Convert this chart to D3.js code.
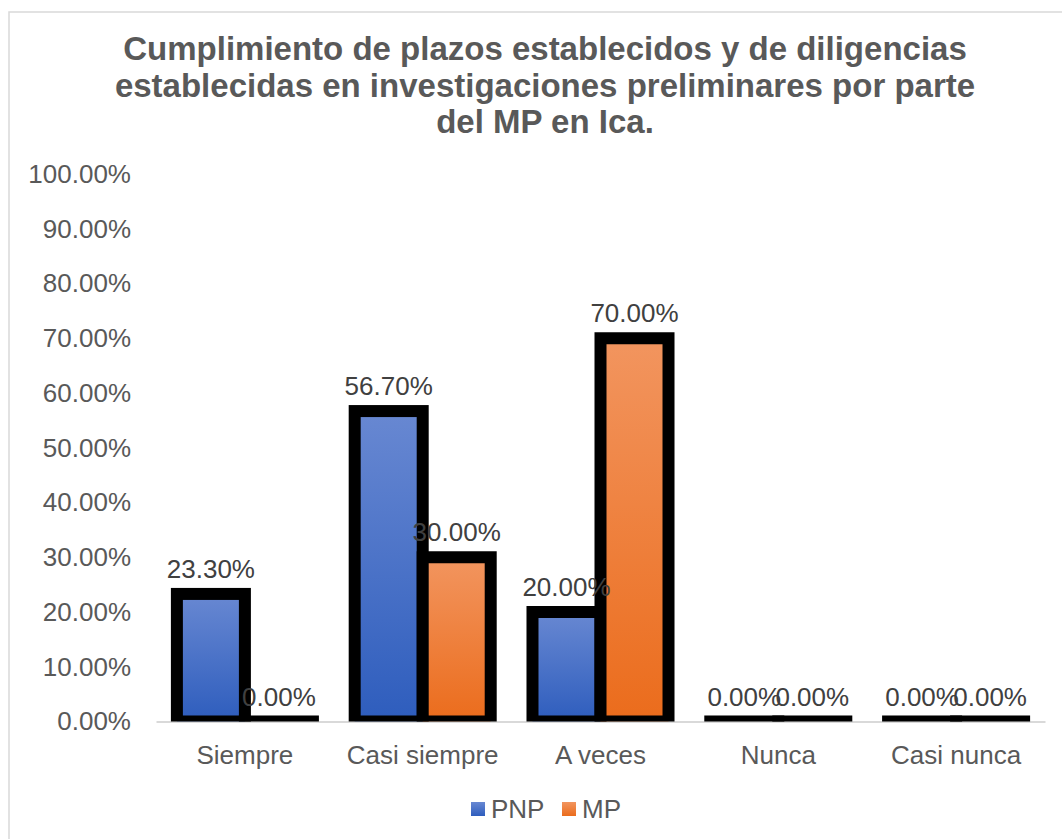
<!DOCTYPE html>
<html>
<head>
<meta charset="utf-8">
<script src="https://cdn.jsdelivr.net/npm/d3@7"></script>
<style>
  body { margin: 0; background: #fff; }
  svg text { font-family: "Liberation Sans", Arial, sans-serif; }
</style>
</head>
<body>
<svg id="chart" width="1062" height="839"></svg>
<script>
var titleLines = [
  "Cumplimiento de plazos establecidos y de diligencias",
  "establecidas en investigaciones preliminares por parte",
  "del MP en Ica."
];
var categories = ["Siempre", "Casi siempre", "A veces", "Nunca", "Casi nunca"];
var seriesNames = ["PNP", "MP"];
var pnpValues = [0.233, 0.567, 0.20, 0, 0];
var mpValues = [0, 0.30, 0.70, 0, 0];
var yTicks = [0, 0.1, 0.2, 0.3, 0.4, 0.5, 0.6, 0.7, 0.8, 0.9, 1.0];

var W = 1062, H = 839;
var L = 156, R = 1045, T = 174, B = 721.5;

var vis = d3.select("#chart");

// gradients like excel
var defs = vis.append("defs");
var grads = [
  { id: "gPNP", top: "#6888D2", bot: "#2E5DBD" },
  { id: "gMP", top: "#F2955F", bot: "#EB6C1C" }
];
grads.forEach(function(g) {
  var lg = defs.append("linearGradient").attr("id", g.id)
      .attr("x1", 0).attr("y1", 0).attr("x2", 0).attr("y2", 1);
  lg.append("stop").attr("offset", "0%").attr("stop-color", g.top);
  lg.append("stop").attr("offset", "100%").attr("stop-color", g.bot);
});
defs.append("clipPath").attr("id", "plotClip")
  .append("rect").attr("x", 0).attr("y", 0).attr("width", W).attr("height", B);

// chart border
vis.append("rect")
    .attr("x", 9).attr("y", 12)
    .attr("width", W + 20).attr("height", H + 20)
    .attr("fill", "none")
    .attr("stroke", "#d9d9d9")
    .attr("stroke-width", 1.5);

// title
vis.append("g").selectAll("text")
    .data(titleLines)
  .enter().append("text")
    .attr("x", 545)
    .attr("y", function(d, i) { return 60 + i * 36.5; })
    .attr("text-anchor", "middle")
    .attr("font-size", "33px")
    .attr("font-weight", "bold")
    .attr("fill", "#595959")
    .text(function(d) { return d; });

var xScale = d3.scaleBand().domain(categories).range([L, R])
    .paddingInner(0.235).paddingOuter(0.1175);
var xSub = d3.scaleBand().domain(seriesNames).range([0, xScale.bandwidth()]);
var yScale = d3.scaleLinear().domain([0, 1]).range([B, T]);

var fmt = d3.format(".2%");

// y axis labels
var yAxis = d3.axisLeft(yScale).tickValues(yTicks).tickFormat(fmt).tickSize(0).tickPadding(0);
var yg = vis.append("g")
    .attr("transform", "translate(131,0)")
    .call(yAxis);
yg.select(".domain").remove();
yg.selectAll("text")
    .attr("font-size", "26px")
    .attr("font-family", "Liberation Sans, Arial, sans-serif")
    .attr("fill", "#595959");

// x axis
var xAxis = d3.axisBottom(xScale).tickSize(0).tickPadding(24);
var xg = vis.append("g")
    .attr("transform", "translate(0," + B + ")")
    .call(xAxis);
xg.select(".domain").attr("stroke", "#d9d9d9").attr("stroke-width", 2);
xg.selectAll("text")
    .attr("font-size", "26px")
    .attr("font-family", "Liberation Sans, Arial, sans-serif")
    .attr("fill", "#595959");

var seriesData = [pnpValues, mpValues];

// bars (tiny min height so zero bars still get their black outline)
var barG = vis.append("g").attr("clip-path", "url(#plotClip)");
seriesData.forEach(function(vals, s) {
  barG.selectAll(".bar" + s)
      .data(vals)
    .enter().append("rect")
      .attr("class", "bar" + s)
      .attr("x", function(d, i) { return xScale(categories[i]) + xSub(seriesNames[s]); })
      .attr("width", xSub.bandwidth())
      .attr("y", function(d) { return Math.min(yScale(d), B - 0.01); })
      .attr("height", function(d) { return Math.max(B - yScale(d), 0.01); })
      .attr("fill", "url(#" + grads[s].id + ")")
      .attr("stroke", "#000")
      .attr("stroke-width", 12);
});

// data labels
var labG = vis.append("g");
seriesData.forEach(function(vals, s) {
  labG.selectAll(".lab" + s)
      .data(vals)
    .enter().append("text")
      .attr("x", function(d, i) { return xScale(categories[i]) + xSub(seriesNames[s]) + xSub.bandwidth() / 2; })
      .attr("y", function(d) { return yScale(d) - 16; })
      .attr("text-anchor", "middle")
      .attr("font-size", "26px")
      .attr("fill", "#404040")
      .text(function(d) { return fmt(d); });
});

// legend
var legX = [471, 562];
var leg = vis.append("g");
seriesNames.forEach(function(name, s) {
  leg.append("rect")
      .attr("x", legX[s]).attr("y", 802)
      .attr("width", 14).attr("height", 14)
      .attr("fill", "url(#" + grads[s].id + ")");
  leg.append("text")
      .attr("x", legX[s] + 20).attr("y", 818)
      .attr("font-size", "26px")
      .attr("fill", "#595959")
      .text(name);
});
</script>
</body>
</html>
